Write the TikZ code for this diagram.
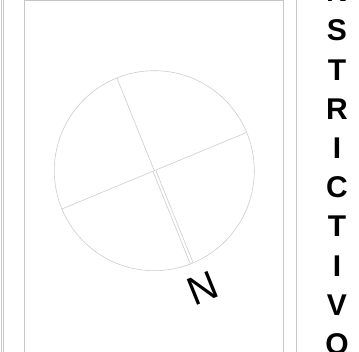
\documentclass[tikz,border=0pt]{standalone}
\usepackage{fontspec}
\setmainfont{Liberation Sans}
\usetikzlibrary{calc}
\definecolor{framegray}{gray}{0.78}
\definecolor{roundgray}{gray}{0.80}
\tikzset{
  frameline/.style={color=framegray,line width=0.7pt},
  roundline/.style={color=roundgray,line width=0.6pt},
  vletter/.style={anchor=base,inner sep=0pt,font=\fontsize{30}{30}\selectfont\bfseries}
}
\begin{document}
\begin{tikzpicture}[x=1pt,y=1pt]
\useasboundingbox (0,0) rectangle (359,352);
% frame
\draw[frameline] (1.7,0) -- (1.7,352);
\draw[frameline] (3.7,0) -- (3.7,352);
\draw[frameline,line width=1pt] (24,0) -- (24,352);
\draw[frameline,line width=1pt] (283.3,0) -- (283.3,352);
\draw[frameline] (296,0) -- (296,352);
\draw[frameline] (24,351.6) -- (283.3,351.6);
% round with axes
\coordinate (ctr) at (154.3,181.3);
\draw[roundline] (ctr) circle (100pt);
\coordinate (west) at ($(ctr)+(202.5:100pt)$);
\coordinate (east) at ($(ctr)+(22.5:100pt)$);
\coordinate (top) at ($(ctr)+(112:100pt)$);
\coordinate (nend) at ($(ctr)+(-68:100pt)$);
\draw[roundline] (west) -- (east);
\draw[roundline] (top) -- (ctr);
\draw[roundline] ($(ctr)+(202:1.5pt)$) -- ($(nend)+(202:1.5pt)$);
\draw[roundline] ($(ctr)+(22:1.5pt)$) -- ($(nend)+(22:1.5pt)$);
\node[rotate=22,inner sep=0pt,font=\fontsize{40}{40}\selectfont] (north) at (203,64) {N};
% vertical word
\foreach \ch [count=\i from 0] in {N,S,T,R,I,C,T,I,V,O}
  \node[vletter] (l\i) at (337,350.2-39.2*\i) {\ch};
\end{tikzpicture}
\end{document}
